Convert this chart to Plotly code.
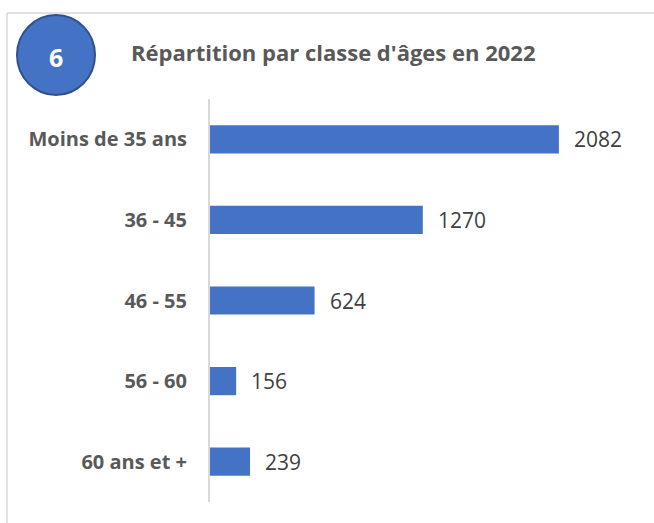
import plotly.graph_objects as go

categories = ["Moins de 35 ans", "36 - 45", "46 - 55", "56 - 60", "60 ans et +"]
values = [2082, 1270, 624, 156, 239]
title_text = "Répartition par classe d'âges en 2022"
badge_text = "6"

W, H = 654, 523
ML, MR, MT, MB = 210, 14, 99, 21
PW, PH = W - ML - MR, H - MT - MB

def px(x):
    return (x - ML) / PW

def py(y):
    return (H - MB - y) / PH

FONT = "Open Sans"

fig = go.Figure(go.Bar(
    x=values, y=categories, orientation="h",
    marker=dict(color="#4472C4", line=dict(width=0)),
    hoverinfo="skip",
))

annotations = []
for c, v in zip(categories, values):
    annotations.append(dict(x=v, y=c, xref="x", yref="y", text=str(v), showarrow=False,
                            xanchor="left", xshift=13,
                            font=dict(family=FONT, size=21, color="#404040")))
annotations.append(dict(x=px(129), y=py(52), xref="paper", yref="paper", text="<b>" + title_text + "</b>",
                        showarrow=False, xanchor="left", yanchor="middle",
                        font=dict(family=FONT, size=22, color="#595959")))
annotations.append(dict(x=px(56), y=py(57), xref="paper", yref="paper", text="<b>" + badge_text + "</b>",
                        showarrow=False, xanchor="center", yanchor="middle",
                        font=dict(family=FONT, size=25, color="white")))

shapes = [
    dict(type="line", xref="paper", yref="paper", x0=px(7), x1=px(660), y0=py(13), y1=py(13),
         line=dict(color="#d9d9d9", width=1.5)),
    dict(type="line", xref="paper", yref="paper", x0=px(7), x1=px(7), y0=py(13), y1=py(530),
         line=dict(color="#d9d9d9", width=1.5)),
    dict(type="circle", xref="paper", yref="paper", x0=px(17), x1=px(95), y0=py(15), y1=py(95),
         fillcolor="#4472C4", line=dict(color="#2F528F", width=2)),
]

fig.update_layout(
    width=W, height=H,
    margin=dict(l=ML, r=MR, t=MT, b=MB),
    paper_bgcolor="white", plot_bgcolor="white",
    bargap=0.65,
    showlegend=False,
    xaxis=dict(range=[0, 2566], visible=False, fixedrange=True),
    yaxis=dict(autorange="reversed", showline=True, linecolor="#d9d9d9", linewidth=2,
               ticks="", showgrid=False, ticklabelstandoff=17,
               tickfont=dict(family=FONT, size=20, color="#595959", weight="bold")),
    annotations=annotations,
    shapes=shapes,
)

fig.write_html("out.html")
